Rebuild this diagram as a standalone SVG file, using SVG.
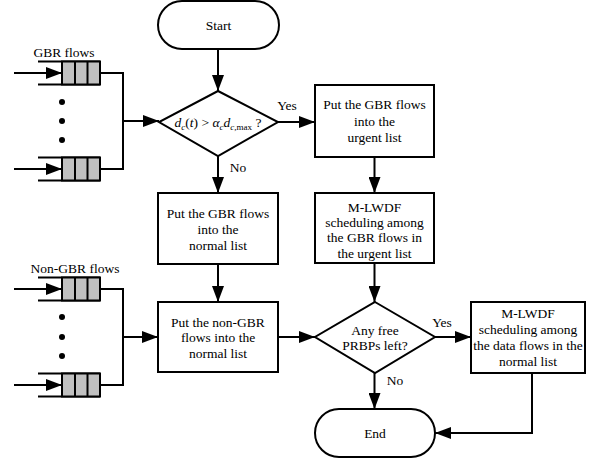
<svg xmlns="http://www.w3.org/2000/svg" width="610" height="461" viewBox="0 0 610 461">
<defs>
<style>
.s{fill:#fff;stroke:#000;stroke-width:2}
.c{fill:none;stroke:#000;stroke-width:2}
.q{fill:#c0c0c0;stroke:#000;stroke-width:2}
text{font-family:"Liberation Serif","Times New Roman",serif;font-size:13.5px;fill:#000;text-anchor:middle}
.i{font-style:italic}
.sub{font-size:9px}
</style>
<marker id="ah" markerUnits="userSpaceOnUse" markerWidth="16" markerHeight="12" refX="16" refY="6" orient="auto">
<path d="M0,0 L16,6 L0,12 z" fill="#000"/>
</marker>
<g id="queue">
<path class="c" d="M38,-11.5 H100 M38,11.5 H100"/>
<rect class="q" x="62" y="-11.5" width="38" height="23"/>
<path class="c" d="M75,-11.5 V11.5 M87.5,-11.5 V11.5"/>
</g>
</defs>

<g id="connectors">
<line class="c" x1="218" y1="49" x2="218" y2="91" marker-end="url(#ah)"/>
<line class="c" x1="278" y1="122" x2="315" y2="122" marker-end="url(#ah)"/>
<line class="c" x1="218" y1="156" x2="218" y2="193" marker-end="url(#ah)"/>
<line class="c" x1="374.5" y1="157" x2="374.5" y2="193" marker-end="url(#ah)"/>
<line class="c" x1="218" y1="264" x2="218" y2="302" marker-end="url(#ah)"/>
<line class="c" x1="374.5" y1="263" x2="374.5" y2="302" marker-end="url(#ah)"/>
<line class="c" x1="278" y1="337" x2="315" y2="337" marker-end="url(#ah)"/>
<line class="c" x1="435" y1="337" x2="471" y2="337" marker-end="url(#ah)"/>
<line class="c" x1="374.5" y1="373" x2="374.5" y2="409" marker-end="url(#ah)"/>
<polyline class="c" points="532,373 532,433 435,433" marker-end="url(#ah)"/>
<polyline class="c" points="100,73 123,73 123,169 100,169"/>
<line class="c" x1="123" y1="121" x2="159" y2="121" marker-end="url(#ah)"/>
<polyline class="c" points="100,289 123,289 123,385 100,385"/>
<line class="c" x1="123" y1="337" x2="158" y2="337" marker-end="url(#ah)"/>
<line class="c" x1="14" y1="73" x2="62" y2="73" marker-end="url(#ah)"/>
<line class="c" x1="14" y1="169" x2="62" y2="169" marker-end="url(#ah)"/>
<line class="c" x1="14" y1="289" x2="62" y2="289" marker-end="url(#ah)"/>
<line class="c" x1="14" y1="385" x2="62" y2="385" marker-end="url(#ah)"/>
<text x="287" y="110">Yes</text>
<text x="238" y="172">No</text>
<text x="442" y="327">Yes</text>
<text x="395" y="385">No</text>
</g>

<g id="gbr-flows">
<text x="64" y="57">GBR flows</text>
<use href="#queue" y="73"/>
<use href="#queue" y="169"/>
<circle cx="62" cy="102" r="3"/>
<circle cx="62" cy="121" r="3"/>
<circle cx="62" cy="140" r="3"/>
</g>

<g id="non-gbr-flows">
<text x="75" y="273">Non-GBR flows</text>
<use href="#queue" y="289"/>
<use href="#queue" y="385"/>
<circle cx="62" cy="317" r="3"/>
<circle cx="62" cy="337" r="3"/>
<circle cx="62" cy="356" r="3"/>
</g>

<g id="start">
<rect class="s" x="158" y="1" width="121" height="48" rx="24"/>
<text x="218.5" y="30">Start</text>
</g>

<g id="decision-delay">
<polygon class="s" points="218,91 278,122 218,156 159,122"/>
<text x="218" y="127"><tspan class="i">d</tspan><tspan class="i sub" dy="3">c</tspan><tspan dy="-3">(</tspan><tspan class="i">t</tspan><tspan>) &gt; </tspan><tspan class="i">α</tspan><tspan class="i sub" dy="3">c</tspan><tspan class="i" dy="-3">d</tspan><tspan class="i sub" dy="3">c,</tspan><tspan class="sub">max</tspan><tspan dy="-3"> ?</tspan></text>
</g>

<g id="urgent-list">
<rect class="s" x="315" y="85" width="119" height="72"/>
<text x="374.5" y="109">Put the GBR flows</text>
<text x="374.5" y="125.5">into the</text>
<text x="374.5" y="142">urgent list</text>
</g>

<g id="mlwdf-urgent">
<rect class="s" x="315" y="193" width="119" height="70"/>
<text x="374.5" y="211.5">M-LWDF</text>
<text x="374.5" y="226.5">scheduling among</text>
<text x="374.5" y="241.5">the GBR flows in</text>
<text x="374.5" y="257.5">the urgent list</text>
</g>

<g id="gbr-normal">
<rect class="s" x="158" y="193" width="120" height="71"/>
<text x="218" y="218">Put the GBR flows</text>
<text x="218" y="234">into the</text>
<text x="218" y="250">normal list</text>
</g>

<g id="nongbr-normal">
<rect class="s" x="158" y="302" width="120" height="70"/>
<text x="218" y="327">Put the non-GBR</text>
<text x="218" y="342">flows into the</text>
<text x="218" y="358">normal list</text>
</g>

<g id="decision-prbp">
<polygon class="s" points="375,302 435,337 375,373 315,337"/>
<text x="375" y="335">Any free</text>
<text x="375" y="350">PRBPs left?</text>
</g>

<g id="mlwdf-normal">
<rect class="s" x="471" y="302" width="114" height="71"/>
<text x="528" y="318">M-LWDF</text>
<text x="528" y="334">scheduling among</text>
<text x="528" y="350">the data flows in the</text>
<text x="528" y="366">normal list</text>
</g>

<g id="end">
<rect class="s" x="315" y="409" width="120" height="48" rx="24"/>
<text x="375" y="438">End</text>
</g>
</svg>
